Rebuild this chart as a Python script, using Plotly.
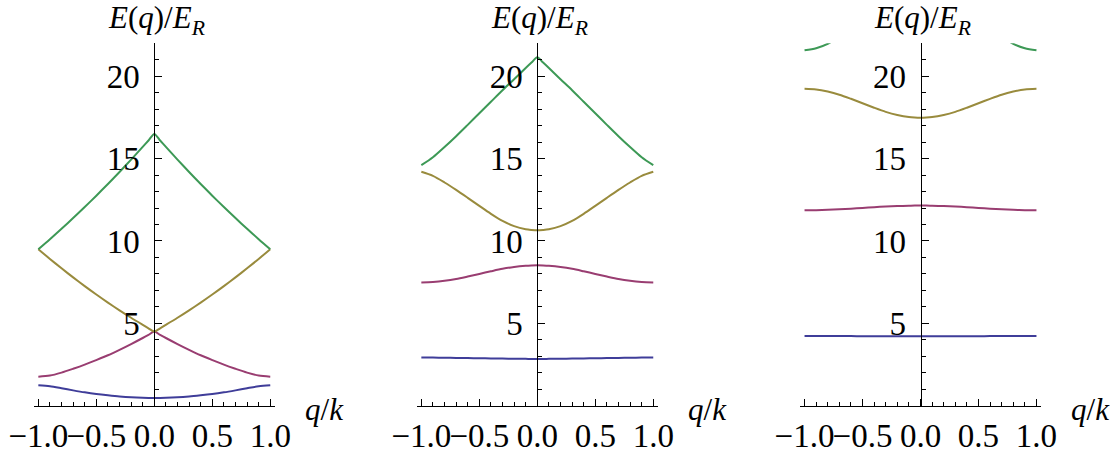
import plotly.graph_objects as go

# Quasi-momentum grid (in units of k), shared by all bands
q = [-1.0, -0.9, -0.8, -0.7, -0.6, -0.5, -0.4, -0.3, -0.2, -0.1, -0.05, 0.0,
     0.05, 0.1, 0.2, 0.3, 0.4, 0.5, 0.6, 0.7, 0.8, 0.9, 1.0]

# Shallow lattice: lowest four bands E(q)/E_R
shallow_b1 = [1.24, 1.18, 1.06, 0.93, 0.81, 0.71, 0.63, 0.56, 0.51, 0.48, 0.473, 0.47,
              0.473, 0.48, 0.51, 0.56, 0.63, 0.71, 0.81, 0.93, 1.06, 1.18, 1.24]
shallow_b2 = [1.76, 1.83, 2.01, 2.24, 2.49, 2.77, 3.06, 3.39, 3.74, 4.11, 4.30, 4.5,
              4.30, 4.11, 3.74, 3.39, 3.06, 2.77, 2.49, 2.24, 2.01, 1.83, 1.76]
shallow_b3 = [9.5, 8.91, 8.34, 7.79, 7.26, 6.75, 6.26, 5.79, 5.34, 4.91, 4.70, 4.5,
              4.70, 4.91, 5.34, 5.79, 6.26, 6.75, 7.26, 7.79, 8.34, 8.91, 9.5]
shallow_b4 = [9.5, 10.11, 10.74, 11.39, 12.06, 12.75, 13.46, 14.19, 14.94, 15.71, 16.1, 16.5,
              16.1, 15.71, 14.94, 14.19, 13.46, 12.75, 12.06, 11.39, 10.74, 10.11, 9.5]

# Intermediate lattice
medium_b1 = [2.92, 2.92, 2.91, 2.90, 2.89, 2.88, 2.87, 2.86, 2.85, 2.845, 2.84, 2.84,
             2.84, 2.845, 2.85, 2.86, 2.87, 2.88, 2.89, 2.90, 2.91, 2.92, 2.92]
medium_b2 = [7.48, 7.51, 7.58, 7.69, 7.84, 8.0, 8.16, 8.31, 8.42, 8.49, 8.51, 8.52,
             8.51, 8.49, 8.42, 8.31, 8.16, 8.0, 7.84, 7.69, 7.58, 7.51, 7.48]
medium_b3 = [14.2, 13.95, 13.55, 13.1, 12.62, 12.13, 11.65, 11.22, 10.9, 10.71, 10.67, 10.65,
             10.67, 10.71, 10.9, 11.22, 11.65, 12.13, 12.62, 13.1, 13.55, 13.95, 14.2]
medium_b4 = [14.6, 15.08, 15.7, 16.36, 17.05, 17.75, 18.45, 19.15, 19.82, 20.5, 20.83, 21.15,
             20.83, 20.5, 19.82, 19.15, 18.45, 17.75, 17.05, 16.36, 15.7, 15.08, 14.6]

# Deep lattice
deep_b1 = [4.23, 4.23, 4.23, 4.23, 4.225, 4.22, 4.22, 4.215, 4.21, 4.21, 4.21, 4.21,
           4.21, 4.21, 4.21, 4.215, 4.22, 4.22, 4.225, 4.23, 4.23, 4.23, 4.23]
deep_b2 = [11.86, 11.87, 11.89, 11.92, 11.96, 12.0, 12.05, 12.09, 12.12, 12.14, 12.15, 12.15,
           12.15, 12.14, 12.12, 12.09, 12.05, 12.0, 11.96, 11.92, 11.89, 11.87, 11.86]
deep_b3 = [19.24, 19.20, 19.07, 18.88, 18.63, 18.36, 18.09, 17.84, 17.65, 17.52, 17.49, 17.48,
           17.49, 17.52, 17.65, 17.84, 18.09, 18.36, 18.63, 18.88, 19.07, 19.20, 19.24]
deep_b4 = [21.58, 21.7, 21.97, 22.4, 22.9, 23.5, 24.0, 24.5, 24.9, 25.2, 25.3, 25.35,
           25.3, 25.2, 24.9, 24.5, 24.0, 23.5, 22.9, 22.4, 21.97, 21.7, 21.58]

panels = [
    [shallow_b1, shallow_b2, shallow_b3, shallow_b4],
    [medium_b1, medium_b2, medium_b3, medium_b4],
    [deep_b1, deep_b2, deep_b3, deep_b4],
]

band_colors = ["rgb(63,61,153)", "rgb(153,61,113)", "rgb(153,139,61)", "rgb(61,153,86)"]

x_tickvals = [-1.0, -0.5, 0.0, 0.5, 1.0]
x_ticktext = ["\u22121.0", "\u22120.5", "0.0", "0.5", "1.0"]
y_tickvals = [5, 10, 15, 20]
y_ticktext = ["5", "10", "15", "20"]

W, H = 1115, 457
centers_px = [154.3, 537.3, 920.5]
half_px = 120.6
y_dom = [51.3 / H, 413.7 / H]
x_range = [-1.04, 1.04]
y_range = [0, 22]

FONT = "Liberation Serif"
tick_font = dict(family=FONT, size=33, color="black")

fig = go.Figure()
layout = dict(
    template="none",
    width=W, height=H,
    margin=dict(l=0, r=0, t=0, b=0, autoexpand=False),
    paper_bgcolor="white", plot_bgcolor="white",
    showlegend=False,
    font=dict(family=FONT, color="black"),
)

annotations = []
for i, bands in enumerate(panels):
    sfx = "" if i == 0 else str(i + 1)
    for band, color in zip(bands, band_colors):
        fig.add_trace(go.Scatter(
            x=q, y=band, mode="lines",
            line=dict(color=color, width=2, shape="spline", smoothing=0.8),
            xaxis="x" + sfx, yaxis="y" + sfx, hoverinfo="skip",
        ))
    c = centers_px[i]
    dom = [(c - half_px) / W, (c + half_px) / W]
    layout["xaxis" + sfx] = dict(
        domain=dom, range=x_range, anchor="y" + sfx, automargin=False,
        showline=True, linecolor="black", linewidth=1,
        showgrid=False, zeroline=False,
        tickmode="array", tickvals=x_tickvals, ticktext=x_ticktext, tickangle=0,
        ticks="inside", ticklen=7, tickwidth=1, tickcolor="black",
        tickfont=tick_font, ticklabelstandoff=1,
        minor=dict(dtick=0.1, tick0=0, ticks="inside", ticklen=4,
                   tickwidth=1, tickcolor="black", showgrid=False),
    )
    layout["yaxis" + sfx] = dict(
        domain=y_dom, range=y_range, anchor="free", position=c / W, automargin=False,
        showline=True, linecolor="black", linewidth=1,
        showgrid=False, zeroline=False,
        tickmode="array", tickvals=y_tickvals, ticktext=y_ticktext,
        ticks="inside", ticklen=7, tickwidth=1, tickcolor="black",
        tickfont=tick_font, ticklabelstandoff=8,
        minor=dict(dtick=1, tick0=0, ticks="inside", ticklen=4,
                   tickwidth=1, tickcolor="black", showgrid=False),
    )
    annotations.append(dict(
        text="<i>E</i>(<i>q</i>)/<i>E</i><sub><i>R</i></sub>",
        xref="paper", yref="paper", x=(c + 2) / W, y=1 - 20 / H,
        xanchor="center", yanchor="middle", showarrow=False,
        font=dict(family=FONT, size=31, color="black"),
    ))
    annotations.append(dict(
        text="<i>q</i>/<i>k</i>",
        xref="paper", yref="paper", x=(c + 170) / W, y=1 - 409 / H,
        xanchor="center", yanchor="middle", showarrow=False,
        font=dict(family=FONT, size=31, color="black"),
    ))

layout["annotations"] = annotations
fig.update_layout(**layout)
fig.write_html("out.html")
